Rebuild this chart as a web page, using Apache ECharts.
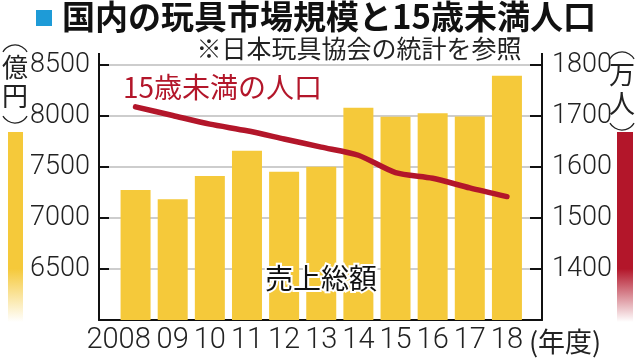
<!DOCTYPE html>
<html>
<head>
<meta charset="utf-8">
<script src="https://cdn.jsdelivr.net/npm/echarts@6/dist/echarts.min.js"></script>
<style>
html,body{margin:0;padding:0;background:#fff;}
#c{width:639px;height:360px;}
</style>
</head>
<body>
<div id="c"></div>
<script>
// ---- data ----
var years = ['2008','09','10','11','12','13','14','15','16','17','18'];
var sales = [7275, 7183, 7412, 7660, 7454, 7503, 8082, 7993, 8026, 7995, 8395]; // 売上総額 (億円)
var population = [1718, 1701, 1684, 1671, 1655, 1639, 1623, 1589, 1578, 1559, 1542]; // 15歳未満人口 (万人)
var leftTicks = {min: 6000, max: 8500, interval: 500};
var rightTicks = {min: 1300, max: 1800, interval: 100};

var NUM = "Roboto, 'Liberation Sans', sans-serif";
var JP = "'Noto Sans CJK JP', 'Noto Sans', sans-serif";
var YELLOW = '#F5C93A';
var RED = '#B3162A';

var chart = echarts.init(document.getElementById('c'), null, {renderer: 'canvas'});

function vgrad(c, c2) {
  return new echarts.graphic.LinearGradient(0, 0, 0, 1, [
    {offset: 0, color: c}, {offset: 0.72, color: c}, {offset: 1, color: c2}
  ]);
}
function unitMark(cx, top, c1, c2) {
  return [
    {type: 'arc', shape: {cx: cx, cy: top + 14, r: 14, startAngle: Math.PI * 1.17, endAngle: Math.PI * 1.83}, style: {stroke: '#222', lineWidth: 1.3, fill: null}},
    {type: 'text', x: cx, y: top + 22, style: {text: c1, font: '26px ' + JP, fill: '#222', align: 'center', verticalAlign: 'middle'}},
    {type: 'text', x: cx, y: top + 51, style: {text: c2, font: '26px ' + JP, fill: '#222', align: 'center', verticalAlign: 'middle'}},
    {type: 'arc', shape: {cx: cx, cy: top + 64, r: 14, startAngle: Math.PI * 0.17, endAngle: Math.PI * 0.83}, style: {stroke: '#222', lineWidth: 1.3, fill: null}}
  ];
}

var graphics = [
  // title
  {type: 'rect', left: 36, top: 10, shape: {width: 16, height: 16}, style: {fill: '#1E9BD7'}},
  {type: 'text', left: 62, top: 0, style: {text: '国内の玩具市場規模と15歳未満人口', font: 'bold 33px ' + JP, fill: '#111'}},
  // source note
  {type: 'text', x: 359, y: 48, style: {text: '※日本玩具協会の統計を参照', font: '25px ' + JP, fill: '#222', align: 'center', verticalAlign: 'middle'}},
  // axis line extensions above top tick
  {type: 'line', shape: {x1: 99, y1: 53, x2: 99, y2: 66}, style: {stroke: '#111', lineWidth: 2}},
  {type: 'line', shape: {x1: 542, y1: 53, x2: 542, y2: 66}, style: {stroke: '#111', lineWidth: 2}},
  // legend swatches
  {type: 'rect', shape: {x: 8, y: 132, width: 15, height: 190}, style: {fill: vgrad(YELLOW, 'rgba(245,201,58,0)')}},
  {type: 'rect', shape: {x: 617, y: 132, width: 16, height: 190}, style: {fill: vgrad(RED, 'rgba(179,22,42,0)')}},
  // series labels
  {type: 'text', x: 123, y: 87, z: 10, style: {text: '15歳未満の人口', font: '28px ' + JP, fill: RED, verticalAlign: 'middle'}},
  {type: 'text', x: 321, y: 278, z: 10, style: {text: '売上総額', font: '28px ' + JP, fill: '#111', align: 'center', verticalAlign: 'middle', stroke: '#fff', lineWidth: 4}}
].concat(unitMark(15, 45, '億', '円'), unitMark(622, 52, '万', '人'));

var option = {
  backgroundColor: '#fff',
  animation: false,
  grid: [
    {left: 99, right: 97, top: 65, bottom: 40},
    {left: 117, right: 113.5, top: 65, bottom: 40}
  ],
  xAxis: [
    {
      gridIndex: 0, type: 'category', data: years,
      axisLine: {show: true, lineStyle: {color: '#111', width: 2}},
      axisTick: {show: false}, axisLabel: {show: false}, splitLine: {show: false}
    },
    {
      gridIndex: 1, type: 'category', data: years,
      axisLine: {show: false}, axisTick: {show: false}, splitLine: {show: false},
      axisLabel: {
        interval: 0, margin: 6, color: '#222', fontFamily: NUM, fontSize: 29, fontWeight: 300,
        formatter: function (v, i) { return i === 0 ? '{f|' + v + '}' : v; },
        rich: {f: {padding: [0, 34, 0, 0], fontFamily: NUM, fontSize: 29, fontWeight: 300, color: '#222'}}
      },
      name: '(年度)', nameLocation: 'end', nameGap: -9,
      nameTextStyle: {fontFamily: JP, fontSize: 27, color: '#222', verticalAlign: 'top', align: 'left', padding: [8, 0, 0, 0]}
    }
  ],
  yAxis: [
    {
      gridIndex: 0, type: 'value', position: 'left',
      min: leftTicks.min, max: leftTicks.max, interval: leftTicks.interval,
      axisLine: {show: true, lineStyle: {color: '#111', width: 2}},
      axisTick: {show: true, inside: true, length: 10, lineStyle: {color: '#111', width: 2}},
      splitLine: {show: true, lineStyle: {color: '#bdbdbd', width: 1.5}},
      axisLabel: {
        margin: 9, color: '#222', fontFamily: NUM, fontSize: 27, fontWeight: 300,
        formatter: function (v) { return v === leftTicks.min ? '' : String(v); }
      }
    },
    {
      gridIndex: 0, type: 'value', position: 'right',
      min: rightTicks.min, max: rightTicks.max, interval: rightTicks.interval,
      axisLine: {show: true, lineStyle: {color: '#111', width: 2}},
      axisTick: {show: true, inside: true, length: 12, lineStyle: {color: '#111', width: 2}},
      splitLine: {show: false},
      axisLabel: {
        margin: 10, color: '#222', fontFamily: NUM, fontSize: 27, fontWeight: 300,
        formatter: function (v) { return v === rightTicks.min ? '' : String(v); }
      }
    },
    {
      gridIndex: 1, type: 'value', show: false,
      min: leftTicks.min, max: leftTicks.max, interval: leftTicks.interval,
      splitLine: {show: false}
    },
    {
      gridIndex: 1, type: 'value', show: false,
      min: rightTicks.min, max: rightTicks.max, interval: rightTicks.interval,
      splitLine: {show: false}
    }
  ],
  series: [
    {
      type: 'bar', xAxisIndex: 1, yAxisIndex: 2, data: sales,
      barWidth: 30, itemStyle: {color: YELLOW}, z: 2
    },
    {
      type: 'line', xAxisIndex: 1, yAxisIndex: 3, data: population,
      smooth: 0.25, symbol: 'none',
      lineStyle: {color: RED, width: 5.5, cap: 'round', join: 'round'}, z: 3
    }
  ],
  graphic: graphics
};
chart.setOption(option);
</script>
</body>
</html>
